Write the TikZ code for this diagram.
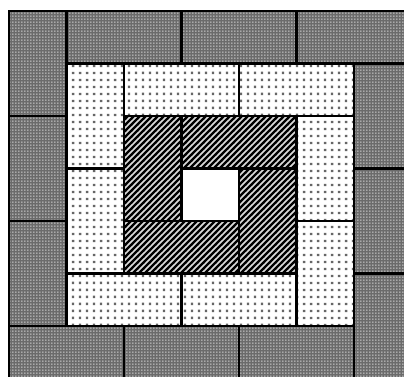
\documentclass[tikz,border=0pt]{standalone}
\usetikzlibrary{patterns}
\pgfdeclarepatternformonly{finedots}{\pgfpointorigin}{\pgfpoint{3pt}{3pt}}{\pgfpoint{3pt}{3pt}}{%
  \pgfpathrectangle{\pgfpoint{0.6pt}{0.6pt}}{\pgfpoint{1.3pt}{1.3pt}}\pgfusepath{fill}}
\pgfdeclarepatternformonly{sparsedots}{\pgfpointorigin}{\pgfpoint{7pt}{7pt}}{\pgfpoint{7pt}{7pt}}{%
  \pgfpathrectangle{\pgfpoint{2.2pt}{2.2pt}}{\pgfpoint{2.6pt}{2.6pt}}\pgfusepath{fill}}
\pgfdeclarepatternformonly{thickhatch}{\pgfpoint{-1pt}{-1pt}}{\pgfpoint{7pt}{7pt}}{\pgfpoint{6pt}{6pt}}{%
  \pgfsetlinewidth{2.4pt}%
  \pgfpathmoveto{\pgfpoint{-1pt}{-1pt}}\pgfpathlineto{\pgfpoint{7pt}{7pt}}\pgfusepath{stroke}}
\tikzset{
  outercell/.style={fill=black!58, postaction={pattern=finedots, pattern color=white}},
  middlecell/.style={fill=white, postaction={pattern=sparsedots, pattern color=black!60}},
  innercell/.style={fill=black!15, postaction={pattern=thickhatch, pattern color=black}},
  edge/.style={draw=black, line width=2.4pt, line join=miter},
}
\begin{document}
\begin{tikzpicture}[x=1pt,y=-1pt]
\useasboundingbox (0,0) rectangle (404,376);
\clip (0,0) rectangle (404,376);
\fill[white] (0,0) rectangle (404,376);
% outer ring
\foreach \a/\b/\c/\d in {9/11/66.5/116, 9/116/66.5/221, 9/221/66.5/326,
  9/326/124/378.5, 124/326/239/378.5, 239/326/354/378.5,
  354/273.5/411.5/378.5, 354/168.5/411.5/273.5, 354/63.5/411.5/168.5,
  296.5/11/411.5/63.5, 181.5/11/296.5/63.5, 66.5/11/181.5/63.5}
  \path[outercell] (\a,\b) rectangle (\c,\d);
% middle ring
\foreach \a/\b/\c/\d in {66.5/63.5/124/168.5, 124/63.5/239/116, 239/63.5/354/116,
  296.5/116/354/221, 296.5/221/354/326, 181.5/273.5/296.5/326,
  66.5/273.5/181.5/326, 66.5/168.5/124/273.5}
  \path[middlecell] (\a,\b) rectangle (\c,\d);
% inner ring
\foreach \a/\b/\c/\d in {124/116/181.5/221, 181.5/116/296.5/168.5,
  239/168.5/296.5/273.5, 124/221/239/273.5}
  \path[innercell] (\a,\b) rectangle (\c,\d);
\fill[white] (181.5,168.5) rectangle (239,221);
% edges
\foreach \a/\b/\c/\d in {9/11/66.5/116, 9/116/66.5/221, 9/221/66.5/326,
  9/326/124/378.5, 124/326/239/378.5, 239/326/354/378.5,
  354/273.5/411.5/378.5, 354/168.5/411.5/273.5, 354/63.5/411.5/168.5,
  296.5/11/411.5/63.5, 181.5/11/296.5/63.5, 66.5/11/181.5/63.5,
  66.5/63.5/124/168.5, 124/63.5/239/116, 239/63.5/354/116,
  296.5/116/354/221, 296.5/221/354/326, 181.5/273.5/296.5/326,
  66.5/273.5/181.5/326, 66.5/168.5/124/273.5,
  124/116/181.5/221, 181.5/116/296.5/168.5,
  239/168.5/296.5/273.5, 124/221/239/273.5}
  \draw[edge] (\a,\b) rectangle (\c,\d);
\end{tikzpicture}
\end{document}
